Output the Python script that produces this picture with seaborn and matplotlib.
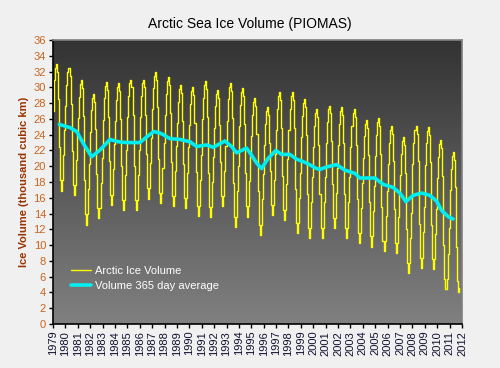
import numpy as np
import pandas as pd
import matplotlib
matplotlib.use("Agg")
import matplotlib.pyplot as plt
import seaborn as sns

# ----------------------------
# Data (thousand km^3)
# ----------------------------
years = list(range(1979, 2012))

# monthly volume, Jan..Dec for each year (2011 ends in Oct)
volume = [
    27.0, 30.9, 32.5, 33.0, 32.0, 28.5, 22.5, 18.2, 16.9, 18.2, 21.4, 24.6,  # 1979
    27.6, 30.3, 31.9, 32.4, 31.4, 27.9, 21.9, 17.6, 16.3, 17.6, 20.8, 24.0,  # 1980
    26.1, 28.8, 30.4, 30.9, 29.9, 26.4, 18.2, 13.9, 12.6, 13.9, 17.1, 20.3,  # 1981
    24.4, 27.1, 28.7, 29.2, 28.2, 24.7, 19.0, 14.7, 13.4, 14.7, 17.9, 21.1,  # 1982
    25.9, 28.6, 30.2, 30.7, 29.7, 26.2, 20.7, 16.4, 15.1, 16.4, 19.6, 22.8,  # 1983
    25.7, 28.4, 30.0, 30.5, 29.5, 26.0, 20.0, 15.7, 14.4, 15.7, 18.9, 22.1,  # 1984
    26.2, 28.9, 30.5, 31.0, 30.0, 26.5, 20.0, 15.7, 14.4, 15.7, 18.9, 22.1,  # 1985
    26.2, 28.9, 30.5, 31.0, 30.0, 26.5, 21.5, 17.2, 15.9, 17.2, 20.4, 23.6,  # 1986
    27.2, 29.9, 31.5, 32.0, 31.0, 27.5, 20.9, 16.6, 15.3, 16.6, 19.8, 23.0,  # 1987
    26.5, 29.2, 30.8, 31.3, 30.3, 26.8, 20.5, 16.2, 14.9, 16.2, 19.4, 22.6,  # 1988
    25.5, 28.2, 29.8, 30.3, 29.3, 25.8, 20.3, 16.0, 14.7, 16.0, 19.2, 22.4,  # 1989
    25.2, 27.9, 29.5, 30.0, 29.0, 25.5, 19.3, 15.0, 13.7, 15.0, 18.2, 21.4,  # 1990
    26.0, 28.7, 30.3, 30.8, 29.8, 26.3, 19.1, 14.8, 13.5, 14.8, 18.0, 21.2,  # 1991
    24.9, 27.6, 29.2, 29.7, 28.7, 25.2, 20.5, 16.2, 14.9, 16.2, 19.4, 22.6,  # 1992
    25.8, 28.5, 30.1, 30.6, 29.6, 26.1, 17.9, 13.6, 12.3, 13.6, 16.8, 20.0,  # 1993
    25.1, 27.8, 29.4, 29.9, 28.9, 25.4, 19.2, 14.9, 13.6, 14.9, 18.1, 21.3,  # 1994
    23.8, 26.5, 28.1, 28.6, 27.6, 24.1, 16.9, 12.6, 11.3, 12.6, 15.8, 19.0,  # 1995
    22.7, 25.4, 27.0, 27.5, 26.5, 23.0, 19.4, 15.1, 13.8, 15.1, 18.3, 21.5,  # 1996
    24.6, 27.3, 28.9, 29.4, 28.4, 24.9, 18.8, 14.5, 13.2, 14.5, 17.7, 20.9,  # 1997
    24.6, 27.3, 28.9, 29.4, 28.4, 24.9, 17.1, 12.8, 11.5, 12.8, 16.0, 19.2,  # 1998
    23.7, 26.4, 28.0, 28.5, 27.5, 24.0, 16.5, 12.2, 10.9, 12.2, 15.4, 18.6,  # 1999
    22.4, 25.1, 26.7, 27.2, 26.2, 22.7, 16.5, 12.2, 10.9, 12.2, 15.4, 18.6,  # 2000
    22.9, 25.6, 27.2, 27.7, 26.7, 23.2, 17.7, 13.4, 12.1, 13.4, 16.6, 19.8,  # 2001
    22.7, 25.4, 27.0, 27.5, 26.5, 23.0, 16.5, 12.2, 10.9, 12.2, 15.4, 18.6,  # 2002
    22.4, 25.1, 26.7, 27.2, 26.2, 22.7, 15.8, 11.5, 10.2, 11.5, 14.7, 17.9,  # 2003
    21.1, 23.8, 25.4, 25.9, 24.9, 21.4, 15.4, 11.1, 9.8, 11.1, 14.3, 17.5,   # 2004
    21.3, 24.0, 25.6, 26.1, 25.1, 21.6, 14.8, 10.5, 9.2, 10.5, 13.7, 16.9,   # 2005
    20.3, 23.0, 24.6, 25.1, 24.1, 20.6, 14.6, 10.3, 9.0, 10.3, 13.5, 16.7,   # 2006
    18.9, 21.6, 23.2, 23.7, 22.7, 19.2, 12.0, 7.7, 6.4, 7.7, 10.9, 14.1,     # 2007
    20.3, 23.0, 24.6, 25.1, 24.1, 20.6, 12.7, 8.4, 7.1, 8.4, 11.6, 14.8,     # 2008
    20.2, 22.9, 24.5, 25.0, 24.0, 20.5, 12.5, 8.2, 6.9, 8.2, 11.4, 14.6,     # 2009
    18.5, 21.2, 22.8, 23.3, 22.3, 18.8, 10.0, 5.7, 4.4, 5.7, 8.9, 12.1,      # 2010
    17.0, 19.7, 21.3, 21.8, 20.8, 17.3, 9.7, 5.4, 4.1, 4.5,                  # 2011
]

# 365 day running average (decimal year, value)
avg_time = [1979.51, 1980.37, 1980.91, 1981.44, 1982.12, 1982.79, 1983.60,
            1984.27, 1984.94, 1986.00, 1986.55, 1987.14, 1987.63, 1987.90,
            1988.44, 1989.24, 1990.05, 1990.59, 1991.40, 1991.93, 1992.87,
            1993.41, 1993.81, 1994.62, 1995.02, 1995.43, 1995.83, 1996.36,
            1996.98, 1997.44, 1998.11, 1998.65, 1999.46, 2000.27, 2000.53,
            2001.07, 2001.88, 2002.55, 2003.35, 2003.76, 2004.97, 2005.64,
            2006.44, 2006.98, 2007.39, 2007.47, 2008.06, 2008.73, 2009.40,
            2009.94, 2010.35, 2010.88, 2011.28]
avg_volume = [25.3, 24.9, 24.4, 22.9, 21.2, 22.05, 23.4,
              23.1, 23.0, 23.0, 23.7, 24.4, 24.2, 24.0,
              23.5, 23.4, 23.1, 22.5, 22.7, 22.4, 23.2,
              22.5, 21.7, 22.3, 21.4, 20.4, 19.7, 21.0,
              22.0, 21.5, 21.5, 20.9, 20.4, 19.7, 19.6,
              19.9, 20.2, 19.5, 19.1, 18.5, 18.5, 17.7,
              17.3, 16.6, 15.7, 15.5, 16.3, 16.6, 16.3,
              15.6, 14.4, 13.6, 13.3]

tick_years = list(range(1979, 2013))

# ----------------------------
# Build tables
# ----------------------------
month_time = [y + m / 12 for y in years for m in range(12)][:len(volume)]
df_vol = pd.DataFrame({"time": month_time, "volume": volume})
df_avg = pd.DataFrame({"time": avg_time, "volume": avg_volume})

# ----------------------------
# Plot
# ----------------------------
sns.set_style("white")
plt.rcParams["font.family"] = ["Liberation Sans", "DejaVu Sans"]

fig = plt.figure(figsize=(5, 3.68), dpi=100, facecolor="#f0f0f0")
ax = fig.add_axes([0.106, 0.12, 0.818, 0.771])

# dark gradient background in the plot area
grad = np.linspace(0, 1, 256).reshape(-1, 1)
ax.imshow(grad, extent=[1979, 2012, 0, 36], aspect="auto", origin="upper",
          cmap=matplotlib.colors.LinearSegmentedColormap.from_list(
              "bg", ["#333333", "#808080"]), zorder=0)

sns.lineplot(data=df_vol, x="time", y="volume", ax=ax, color="#ffff00",
             linewidth=1.0, drawstyle="steps-post", label="Arctic Ice Volume",
             zorder=2)
sns.lineplot(data=df_avg, x="time", y="volume", ax=ax, color="#00eeee",
             linewidth=2.6, label="Volume 365 day average", zorder=3)

ax.set_xlim(1979, 2012)
ax.set_ylim(0, 36)
ax.set_yticks(range(0, 37, 2))
ax.set_xticks(tick_years)
ax.set_xticklabels([str(y) for y in tick_years], rotation=90, fontsize=8,
                   color="#101030")
ax.tick_params(axis="y", labelsize=8, labelcolor="#c8641e", length=3,
               width=1, color="black", direction="out", left=True, pad=2)
ax.tick_params(axis="x", length=3, width=1, color="black", direction="out",
               bottom=True, pad=2)

for side in ["left", "bottom"]:
    ax.spines[side].set_color("black")
    ax.spines[side].set_linewidth(1.2)
for side in ["top", "right"]:
    ax.spines[side].set_color("#808080")
    ax.spines[side].set_linewidth(1.2)

ax.set_xlabel("")
ax.set_ylabel("Ice Volume (thousand cubic km)", fontsize=8, fontweight="bold",
              color="#993300", labelpad=3)
fig.suptitle("Arctic Sea Ice Volume (PIOMAS)", fontsize=10, y=0.955,
             color="black")

leg = ax.legend(loc="lower left", bbox_to_anchor=(0.02, 0.08), frameon=False,
                fontsize=8, handlelength=1.8, handletextpad=0.3,
                labelspacing=0.5, labelcolor="white")

plt.savefig("out.png", dpi=100, facecolor=fig.get_facecolor())
plt.close()
